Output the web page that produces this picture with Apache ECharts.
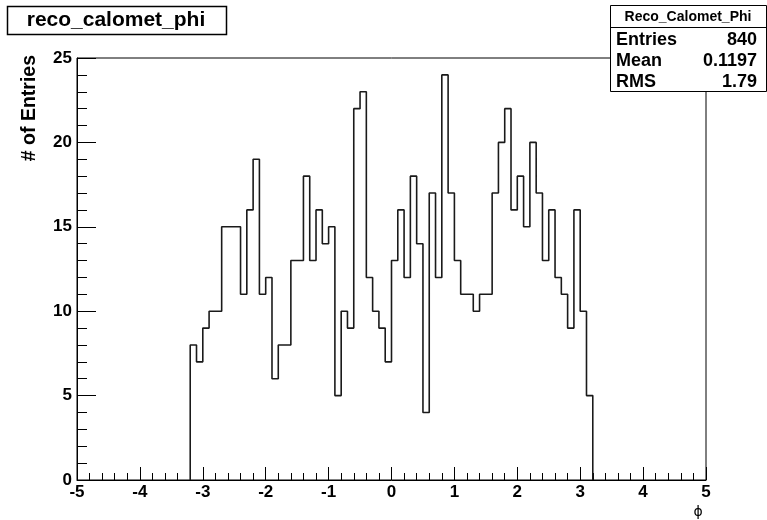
<!DOCTYPE html>
<html>
<head>
<meta charset="utf-8">
<script src="https://cdn.jsdelivr.net/npm/echarts@6/dist/echarts.min.js"></script>
<style>
  html, body { margin: 0; padding: 0; background: #fff; }
  #chart { width: 767px; height: 520px; }
</style>
</head>
<body>
<div id="chart"></div>
<script>
// Histogram binning: 0.1-wide bins starting at phi = -3.2
const binLow = -3.2;
const binWidth = 0.1;
const counts = [
  8, 7, 9, 10, 10, 15, 15, 15, 11, 16,
  19, 11, 12, 6, 8, 8, 13, 13, 18, 13,
  16, 14, 15, 5, 10, 9, 22, 23, 12, 10,
  9, 7, 13, 16, 12, 18, 14, 4, 17, 12,
  24, 17, 13, 11, 11, 10, 11, 11, 17, 20,
  22, 16, 18, 15, 20, 17, 13, 16, 12, 11,
  9, 16, 10, 5
];

// Axis ranges
const xRange = [-5, 5];
const yRange = [0, 25];

// Statistics box contents
const histName = 'Reco_Calomet_Phi';
const statLabels = ['Entries', 'Mean', 'RMS'];
const statValues = ['840', '0.1197', '1.79'];
const titleText = 'reco_calomet_phi';
const yTitle = '# of Entries';
const xTitle = '\u03D5';

// Outline points: rise at the first edge, one point per bin low edge, drop at the last edge
const edge = i => Number((binLow + i * binWidth).toFixed(2));
const outline = [[edge(0), 0]]
  .concat(counts.map((c, i) => [edge(i), c]))
  .concat([[edge(counts.length), 0]]);

const FONT = 'Liberation Sans, Arial, Helvetica, sans-serif';

const chart = echarts.init(document.getElementById('chart'), null, { renderer: 'canvas' });

const statRows = [];
statLabels.forEach((lab, i) => {
  const y = 40 + i * 21;
  statRows.push({
    type: 'text', z: 102,
    style: { x: 616, y: y, text: lab, font: 'bold 18px ' + FONT, fill: '#000', textAlign: 'left', textVerticalAlign: 'middle' }
  });
  statRows.push({
    type: 'text', z: 102,
    style: { x: 757, y: y, text: statValues[i], font: 'bold 18px ' + FONT, fill: '#000', textAlign: 'right', textVerticalAlign: 'middle' }
  });
});

chart.setOption({
  animation: false,
  backgroundColor: '#fff',
  grid: {
    left: 77, right: 61, top: 58, bottom: 40,
    show: true, borderColor: '#000', borderWidth: 1, backgroundColor: 'transparent'
  },
  xAxis: {
    type: 'value',
    min: xRange[0], max: xRange[1], interval: 1,
    axisLine: { show: true, onZero: false, lineStyle: { color: '#000', width: 1 } },
    axisTick: { show: true, inside: true, length: 13, lineStyle: { color: '#000', width: 1 } },
    minorTick: { show: true, splitNumber: 5, length: 7, lineStyle: { color: '#000', width: 1 } },
    splitLine: { show: false },
    axisLabel: { color: '#000', fontFamily: FONT, fontWeight: 'bold', fontSize: 17, margin: 4 }
  },
  yAxis: {
    type: 'value',
    min: yRange[0], max: yRange[1], interval: 5,
    axisLine: { show: true, onZero: false, lineStyle: { color: '#000', width: 1 } },
    axisTick: { show: true, inside: true, length: 19, lineStyle: { color: '#000', width: 1 } },
    minorTick: { show: true, splitNumber: 5, length: 10, lineStyle: { color: '#000', width: 1 } },
    splitLine: { show: false },
    axisLabel: { color: '#000', fontFamily: FONT, fontWeight: 'bold', fontSize: 17, margin: 5 }
  },
  series: [{
    type: 'line',
    step: 'end',
    data: outline,
    symbol: 'none',
    lineStyle: { color: '#1a1a1a', width: 1.6 },
    z: 3
  }],
  graphic: [
    // title box
    {
      type: 'rect', z: 100,
      shape: { x: 7.5, y: 6.5, width: 219, height: 28 },
      style: { fill: '#fff', stroke: '#000', lineWidth: 1.5 }
    },
    {
      type: 'text', z: 101,
      style: { x: 116, y: 20, text: titleText, font: 'bold 21px ' + FONT, fill: '#000', textAlign: 'center', textVerticalAlign: 'middle' }
    },
    // statistics box
    {
      type: 'rect', z: 100,
      shape: { x: 610.5, y: 5.5, width: 156, height: 86 },
      style: { fill: '#fff', stroke: '#000', lineWidth: 1 }
    },
    {
      type: 'line', z: 101,
      shape: { x1: 610.5, y1: 27.5, x2: 767, y2: 27.5 },
      style: { stroke: '#000', lineWidth: 1 }
    },
    {
      type: 'text', z: 102,
      style: { x: 688, y: 17, text: histName, font: 'bold 14px ' + FONT, fill: '#000', textAlign: 'center', textVerticalAlign: 'middle' }
    },
    ...statRows,
    // axis titles
    {
      type: 'text', z: 101,
      x: 30, y: 55, rotation: Math.PI / 2,
      style: { x: 0, y: 0, text: yTitle, font: 'bold 19.5px ' + FONT, fill: '#000', textAlign: 'right', textVerticalAlign: 'middle' }
    },
    {
      type: 'text', z: 101,
      style: { x: 698, y: 512, text: xTitle, font: '14px DejaVu Sans, ' + FONT, fill: '#000', textAlign: 'center', textVerticalAlign: 'middle' }
    }
  ]
});
</script>
</body>
</html>
